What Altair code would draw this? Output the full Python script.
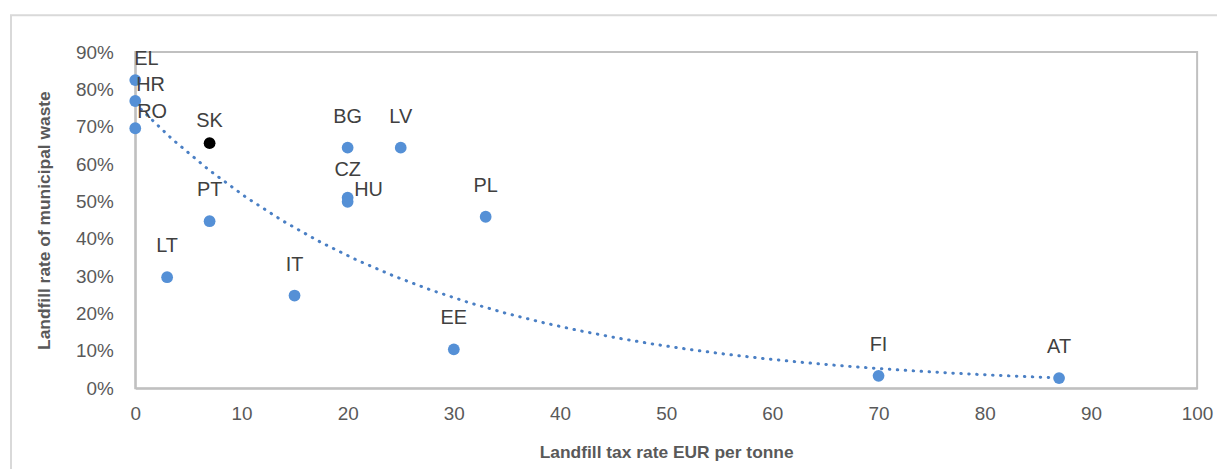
import altair as alt
import pandas as pd

# Data
countries = ["EL", "HR", "RO", "SK", "PT", "LT", "IT", "BG", "CZ", "HU", "LV", "PL", "EE", "FI", "AT"]
tax_rate = [0, 0, 0, 7, 7, 3, 15, 20, 20, 20, 25, 33, 30, 70, 87]
landfill_rate = [0.825, 0.769, 0.696, 0.656, 0.447, 0.297, 0.248, 0.644, 0.510, 0.499, 0.644, 0.459, 0.104, 0.033, 0.027]
highlight = ["SK"]

x_ticks = list(range(0, 101, 10))
y_ticks = [round(i / 10, 1) for i in range(0, 10)]

df = pd.DataFrame({"country": countries, "x": tax_rate, "y": landfill_rate})
df["hl"] = df["country"].isin(highlight).map({True: "yes", False: "no"})

# label placement styles (align, dx, dy) in pixels
label_style = {
    "EL": ("left", -1, -21),
    "HR": ("left", 1, -16),
    "RO": ("left", 2, -16),
    "SK": ("center", 0, -22),
    "CZ": ("center", 0, -28),
    "HU": ("center", 21, -12),
}
default_style = ("center", 0, -31)

FONT = "Liberation Sans"
BLUE = "#5590d6"
TREND = "#4a7fc4"
GRAY = "#c0c0c0"

x_axis = alt.Axis(values=x_ticks, title="Landfill tax rate EUR per  tonne",
                  titlePadding=20, labelPadding=17, labelFlush=False, labelOverlap=False)
y_axis = alt.Axis(values=y_ticks, format=".0%", title="Landfill rate of municipal waste",
                  titlePadding=22, labelPadding=22, labelFlush=False, labelOverlap=False)
x_scale = alt.Scale(domain=[0, 100], nice=False)
y_scale = alt.Scale(domain=[0, 0.9], nice=False)


def X(field):
    return alt.X(field, type="quantitative", scale=x_scale, axis=x_axis)


def Y(field):
    return alt.Y(field, type="quantitative", scale=y_scale, axis=y_axis)


base = alt.Chart(df)

frame = alt.Chart(df).mark_rect(fill=None, stroke="#d9d9d9", strokeWidth=2).encode(
    x=alt.value(-125), x2=alt.value(1100), y=alt.value(-37), y2=alt.value(450)
).transform_filter("datum.country == 'EL'")

trend = base.transform_calculate(ly="log(datum.y)").transform_regression(
    "x", "ly", method="poly", order=1
).transform_calculate(yt="exp(datum.ly)").mark_line(
    color=TREND, strokeWidth=3, strokeDash=[0.5, 7.5], strokeCap="round"
).encode(x=X("x"), y=Y("yt"))

points = base.mark_circle(size=140, opacity=1).encode(
    x=X("x"), y=Y("y"),
    color=alt.Color("hl:N", scale=alt.Scale(domain=["no", "yes"], range=[BLUE, "#000000"]), legend=None),
)

layers = [frame, trend, points]
styles = {}
for c in countries:
    styles.setdefault(label_style.get(c, default_style), []).append(c)
for (align, dx, dy), members in styles.items():
    layers.append(
        base.transform_filter(alt.FieldOneOfPredicate(field="country", oneOf=members))
        .mark_text(align=align, baseline="middle", dx=dx, dy=dy, font=FONT, fontSize=20, color="#404040")
        .encode(x=X("x"), y=Y("y"), text="country:N")
    )

chart = alt.layer(*layers).properties(
    width=1068, height=338,
    autosize=alt.AutoSizeParams(type="none"),
    padding={"left": 128, "top": 43, "right": 20, "bottom": 80},
).configure_view(stroke=GRAY, strokeWidth=2).configure_axis(
    grid=False, ticks=False, domainColor=GRAY, domainWidth=2, labelOverlap=False,
    labelFont=FONT, labelFontSize=19, labelColor="#595959",
    titleFont=FONT, titleFontSize=17.5, titleFontWeight="bold", titleColor="#595959",
)

chart.save("out.html", embed_options={"renderer": "svg", "actions": False})
